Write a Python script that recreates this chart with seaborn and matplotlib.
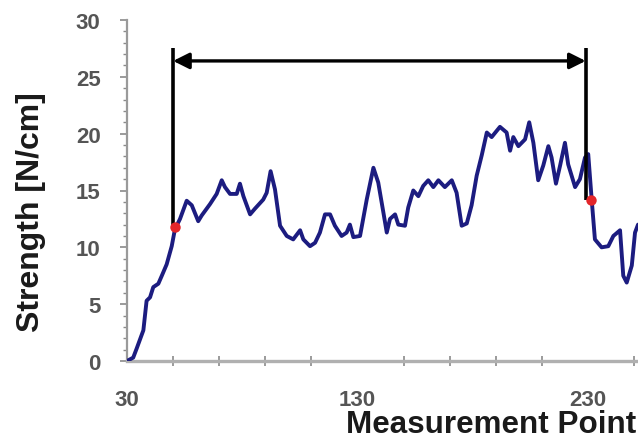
import matplotlib
matplotlib.use("Agg")
import matplotlib.pyplot as plt
from matplotlib.ticker import MultipleLocator
import seaborn as sns
import pandas as pd

# ---- data ----
meas_point = [30.0, 32.7, 34.2, 37.1, 38.5, 40.0, 41.4, 43.6, 45.1, 47.2, 49.4, 50.8,
              53.0, 55.9, 58.1, 60.9, 62.4, 66.0, 68.9, 71.1, 72.5, 74.7, 77.6, 79.0,
              80.5, 83.4, 85.5, 89.1, 90.6, 92.3, 94.2, 96.4, 99.3, 102.1, 105.1, 106.5,
              109.4, 111.6, 113.7, 115.9, 118.1, 120.2, 123.1, 125.3, 126.7, 128.2, 131.1,
              134.0, 136.9, 139.0, 141.2, 142.7, 144.1, 146.3, 147.7, 150.6, 152.0, 154.2,
              156.4, 158.5, 160.7, 162.9, 165.1, 167.9, 170.9, 173.0, 175.2, 177.4, 179.5,
              181.7, 183.9, 186.1, 188.2, 191.8, 194.7, 196.2, 197.6, 199.8, 202.7, 204.5,
              206.3, 208.4, 210.6, 212.8, 214.2, 216.1, 217.9, 220.0, 221.4, 224.4, 226.5,
              228.7, 230.1, 231.6, 233.0, 235.9, 238.8, 241.0, 243.9, 245.3, 246.8, 249.0,
              250.4, 251.7]
strength = [0.0, 0.3, 1.1, 2.7, 5.3, 5.6, 6.5, 6.8, 7.5, 8.5, 10.1, 11.6,
            12.5, 14.1, 13.7, 12.3, 12.8, 13.8, 14.7, 15.9, 15.3, 14.7, 14.7, 15.6,
            14.5, 12.9, 13.4, 14.2, 14.8, 16.7, 15.1, 11.9, 11.0, 10.7, 11.5, 10.7,
            10.1, 10.4, 11.3, 12.9, 12.9, 11.9, 11.0, 11.3, 12.0, 10.9, 11.0,
            14.2, 17.0, 15.7, 13.1, 11.3, 12.5, 12.9, 12.0, 11.9, 13.5, 15.0,
            14.5, 15.4, 15.9, 15.3, 15.9, 15.3, 15.9, 14.8, 11.9, 12.1, 13.7,
            16.3, 18.1, 20.1, 19.7, 20.6, 20.1, 18.5, 19.7, 18.9, 19.5, 21.0,
            19.2, 15.9, 17.2, 18.9, 17.9, 15.6, 17.2, 19.2, 17.3, 15.3, 16.0,
            17.9, 18.2, 14.2, 10.7, 10.0, 10.1, 11.0, 11.5, 7.5, 6.9, 8.4,
            11.3, 12.0]

marker_x = [51.0, 231.2]
marker_y = [11.8, 14.2]
bracket_x = [50.0, 229.0]
bracket_top = 27.5
arrow_y = 26.4

x_ticks = [30, 130, 230]
y_ticks = [0, 5, 10, 15, 20, 25, 30]

df = pd.DataFrame({"Measurement Point": meas_point, "Strength": strength})

sns.set_style("ticks")
plt.rcParams["font.family"] = ["Liberation Sans", "DejaVu Sans"]

fig = plt.figure(figsize=(6.38, 4.39), dpi=100)
ax = fig.add_axes([127 / 638, 1 - 362 / 439, 1 - 127 / 638, (362 - 21) / 439])

sns.lineplot(data=df, x="Measurement Point", y="Strength", sort=False,
             estimator=None, color="#1c1c80", lw=2.8, ax=ax, zorder=3)

# bracket lines and arrow
ax.plot([bracket_x[0], bracket_x[0]], [marker_y[0], bracket_top], color="black", lw=2.6, zorder=4,
        solid_capstyle="butt")
ax.plot([bracket_x[1], bracket_x[1]], [marker_y[1], bracket_top], color="black", lw=2.6, zorder=4,
        solid_capstyle="butt")
ax.annotate("", xy=(bracket_x[0], arrow_y), xytext=(bracket_x[1], arrow_y),
            arrowprops=dict(arrowstyle="<|-|>", color="black", lw=2.4,
                            mutation_scale=24, shrinkA=0, shrinkB=0), zorder=4)

ax.plot(marker_x, marker_y, "o", color="#e3262a", ms=7.5, zorder=5, mec="none")

ax.set_xlim(30, 30 + (638 - 127) / 2.305)
ax.set_ylim(0, 30)
ax.set_xticks(x_ticks)
ax.set_yticks(y_ticks)
ax.xaxis.set_minor_locator(MultipleLocator(20, offset=10))
ax.yaxis.set_minor_locator(MultipleLocator(1))

for s in ["top", "right"]:
    ax.spines[s].set_visible(False)
ax.spines["left"].set_color("#9a9a9a")
ax.spines["left"].set_linewidth(1.6)
ax.spines["bottom"].set_color("#b0b0b0")
ax.spines["bottom"].set_linewidth(2.4)
ax.spines["left"].set_zorder(1)
ax.spines["bottom"].set_zorder(1)

ax.tick_params(axis="both", which="major", labelsize=16, labelcolor="#555555",
               color="#8a8a8a", length=5, width=1.2)
ax.tick_params(axis="y", which="major", pad=14)
ax.tick_params(axis="x", which="major", pad=20, length=0)
ax.tick_params(axis="x", which="minor", direction="inout", length=7, width=1.2, color="#8a8a8a")
ax.tick_params(axis="y", which="minor", length=3, width=1.0, color="#8a8a8a")
for lbl in ax.get_xticklabels() + ax.get_yticklabels():
    lbl.set_fontweight("bold")

ax.set_xlabel("")
ax.set_ylabel("")
fig.text(31 / 638, 1 - 212 / 439, "Strength [N/cm]", rotation=90, ha="center", va="center",
         fontsize=23, fontweight="bold", color="#1a1a1a")
fig.text(636 / 638, 1 - 425 / 439, "Measurement Point", ha="right", va="center",
         fontsize=22.6, fontweight="bold", color="#1a1a1a")

fig.savefig("out.png", dpi=100)
